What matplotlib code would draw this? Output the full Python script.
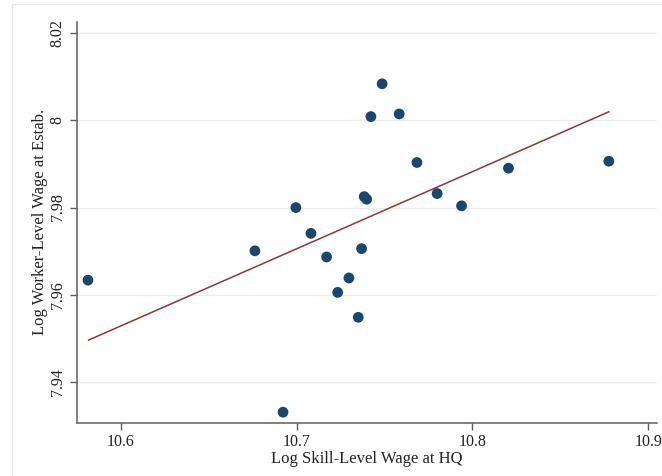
import numpy as np
import matplotlib.pyplot as plt
from matplotlib.patches import Rectangle

# ── Binned data: HQ skill-level wage vs establishment worker-level wage ──
hq_wage = [10.5812, 10.6762, 10.6922, 10.6995, 10.7081, 10.7170, 10.7233,
           10.7297, 10.7350, 10.7369, 10.7384, 10.7398, 10.7422, 10.7486,
           10.7583, 10.7684, 10.7799, 10.7938, 10.8205, 10.8776]
estab_wage = [7.9634, 7.9701, 7.9332, 7.9800, 7.9741, 7.9687, 7.9606,
              7.9639, 7.9549, 7.9706, 7.9825, 7.9819, 8.0008, 8.0083,
              8.0014, 7.9903, 7.9832, 7.9804, 7.9890, 7.9906]

# linear fit endpoints
fit_x = [10.5816, 10.8776]
fit_y = [7.9497, 8.0019]

x_ticks = [10.6, 10.7, 10.8, 10.9]
y_ticks = [7.94, 7.96, 7.98, 8.0, 8.02]
y_tick_labels = ["7.94", "7.96", "7.98", "8", "8.02"]

plt.rcParams['font.family'] = ['Liberation Serif', 'DejaVu Serif']

fig = plt.figure(figsize=(6.62, 4.76), dpi=100)
ax = fig.add_axes([0.1159, 0.1120, 0.8765, 0.8424])

# faint outer frame of the graph region
fig.patches.append(Rectangle((12 / 662, -0.1), 1.2, 1.1 - 4 / 476,
                             transform=fig.transFigure, fill=False,
                             edgecolor="#e6e6e6", lw=1.0, clip_on=False))

ax.scatter(hq_wage, estab_wage, s=60, color="#1a476f", zorder=3,
           edgecolors="none")
ax.plot(fit_x, fit_y, color="#90353b", lw=1.1, zorder=2)

ax.set_xlim(10.5748, 10.905)
ax.set_ylim(7.9308, 8.0225)
ax.set_xticks(x_ticks)
ax.set_xticklabels([f"{v:g}" for v in x_ticks])
ax.set_yticks(y_ticks)
ax.set_yticklabels(y_tick_labels, rotation=90, va="center")

for side in ("top", "right"):
    ax.spines[side].set_visible(False)
for side in ("left", "bottom"):
    ax.spines[side].set_color("#5f5f5f")
    ax.spines[side].set_linewidth(1.1)

ax.tick_params(axis="both", length=5, width=1, color="#5f5f5f",
               labelsize=11.5, labelcolor="#222222", pad=3)
ax.grid(True, axis="y", color="#ececec", lw=1.0)
ax.set_axisbelow(True)

ax.set_xlabel("Log Skill-Level Wage at HQ", fontsize=12, color="#222222",
              labelpad=1)
ax.set_ylabel("Log Worker-Level Wage at Estab.", fontsize=12,
              color="#222222", labelpad=1.5)

fig.savefig("out.png", dpi=100)
